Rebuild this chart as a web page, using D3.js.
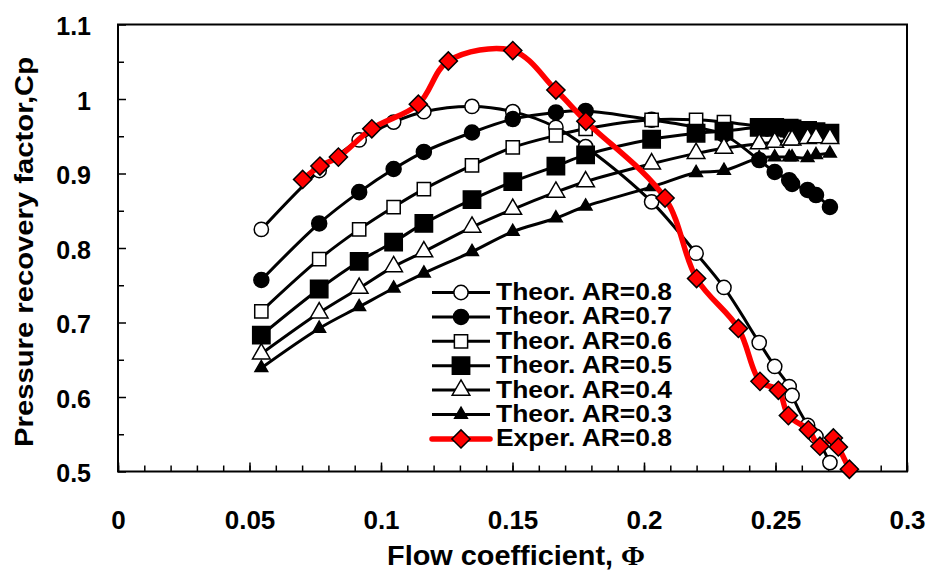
<!DOCTYPE html>
<html>
<head>
<meta charset="utf-8">
<script src="https://cdn.jsdelivr.net/npm/d3@7"></script>
<style>
  body { margin: 0; background: #fff; }
  text { font-family: "Liberation Sans", Arial, sans-serif; font-weight: bold; fill: #000; }
</style>
</head>
<body>
<div id="chart"></div>
<script>
// ----- data -----
var phiTheor = [0.0545, 0.0765, 0.0917, 0.1048, 0.1163, 0.1346, 0.1501, 0.1665, 0.1778, 0.2029,
                0.2198, 0.2304, 0.2438, 0.2497, 0.2552, 0.2563, 0.2622, 0.2654, 0.2707];
var cpAR08 = [0.825, 0.904, 0.945, 0.969, 0.983, 0.990, 0.983, 0.962, 0.936, 0.862,
              0.793, 0.747, 0.673, 0.641, 0.614, 0.602, 0.562, 0.547, 0.512];
var cpAR07 = [0.757, 0.833, 0.875, 0.906, 0.929, 0.955, 0.973, 0.982, 0.984, 0.972,
              0.962, 0.952, 0.918, 0.902, 0.891, 0.886, 0.878, 0.871, 0.855];
var cpAR06 = [0.715, 0.785, 0.825, 0.855, 0.879, 0.911, 0.935, 0.951, 0.960, 0.972,
              0.972, 0.969, 0.964, 0.964, 0.963, 0.962, 0.960, 0.958, 0.956];
var cpAR05 = [0.683, 0.745, 0.782, 0.808, 0.833, 0.865, 0.889, 0.910, 0.925, 0.946,
              0.954, 0.957, 0.962, 0.962, 0.961, 0.960, 0.958, 0.956, 0.954];
var cpAR04 = [0.658, 0.713, 0.746, 0.775, 0.795, 0.828, 0.852, 0.875, 0.889, 0.913,
              0.927, 0.934, 0.940, 0.942, 0.945, 0.945, 0.947, 0.948, 0.947];
var cpAR03 = [0.639, 0.692, 0.721, 0.746, 0.766, 0.795, 0.822, 0.840, 0.856, 0.882,
              0.901, 0.904, 0.921, 0.922, 0.922, 0.922, 0.921, 0.925, 0.927];

var phiExp = [0.0702, 0.0768, 0.0838, 0.0965, 0.1142, 0.1256, 0.1501, 0.1665, 0.1779, 0.2080,
              0.2200, 0.2359, 0.2441, 0.2511, 0.2549, 0.2625, 0.2669, 0.2720, 0.2739, 0.2781];
var cpExp = [0.892, 0.910, 0.922, 0.960, 0.993, 1.051, 1.065, 1.012, 0.970, 0.867,
             0.759, 0.692, 0.621, 0.609, 0.575, 0.556, 0.534, 0.545, 0.533, 0.503];

var seriesNames = ['Theor. AR=0.8', 'Theor. AR=0.7', 'Theor. AR=0.6', 'Theor. AR=0.5',
                   'Theor. AR=0.4', 'Theor. AR=0.3', 'Exper. AR=0.8'];
var xTicks = [0, 0.05, 0.1, 0.15, 0.2, 0.25, 0.3];
var yTicks = [0.5, 0.6, 0.7, 0.8, 0.9, 1.0, 1.1];

// ----- layout -----
var svgwidth = 932;
var svgheight = 573;
var svg = d3.select('#chart')
            .append('svg')
            .attr('width', svgwidth)
            .attr('height', svgheight);

var x = d3.scaleLinear().domain([0, 0.3]).range([118, 907]);
var y = d3.scaleLinear().domain([0.5, 1.1]).range([471.5, 24.5]);

var fmt = function(d) { return String(+d.toFixed(2)); };

// minor ticks
svg.append('g')
    .attr('transform', 'translate(0,' + y(0.5) + ')')
    .call(d3.axisBottom(x).tickValues(d3.range(0, 0.3001, 0.01)).tickSize(-6).tickFormat(''))
    .call(g => g.select('.domain').remove());
svg.append('g')
    .attr('transform', 'translate(' + x(0) + ',0)')
    .call(d3.axisLeft(y).tickValues(d3.range(0.55, 1.1, 0.1)).tickSize(-6).tickFormat(''))
    .call(g => g.select('.domain').remove());

// major ticks + labels
var xAxisG = svg.append('g')
    .attr('transform', 'translate(0,' + y(0.5) + ')')
    .call(d3.axisBottom(x).tickValues(xTicks).tickSize(-9).tickPadding(39).tickFormat(fmt));
xAxisG.select('.domain').remove();
xAxisG.selectAll('text')
    .style('font-family', '"Liberation Sans", Arial, sans-serif')
    .style('font-weight', 'bold')
    .style('font-size', '26px');

var yAxisG = svg.append('g')
    .attr('transform', 'translate(' + x(0) + ',0)')
    .call(d3.axisLeft(y).tickValues(yTicks).tickSize(-8).tickPadding(27).tickFormat(fmt));
yAxisG.select('.domain').remove();
yAxisG.selectAll('text')
    .attr('dy', '0.4em')
    .style('font-family', '"Liberation Sans", Arial, sans-serif')
    .style('font-weight', 'bold')
    .style('font-size', '25px');

svg.selectAll('.tick line').attr('stroke', '#000').attr('stroke-width', 1.5);

// plot frame
svg.append('rect')
    .attr('x', x(0))
    .attr('y', y(1.1))
    .attr('width', x(0.3) - x(0))
    .attr('height', y(0.5) - y(1.1))
    .attr('fill', 'none')
    .attr('stroke', '#000')
    .attr('stroke-width', 2);

// axis titles
svg.append('text')
    .attr('x', 516)
    .attr('y', 565)
    .attr('text-anchor', 'middle')
    .attr('textLength', 258)
    .attr('lengthAdjust', 'spacingAndGlyphs')
    .style('font-size', '27px')
    .text('Flow coefficient, ')
    .append('tspan')
    .style('font-family', '"Liberation Serif", serif')
    .text('Φ');

svg.append('text')
    .attr('transform', 'translate(33,252) rotate(-90)')
    .attr('text-anchor', 'middle')
    .attr('textLength', 390)
    .attr('lengthAdjust', 'spacingAndGlyphs')
    .style('font-size', '26px')
    .text('Pressure recovery factor,Cp');

// ----- series -----
var series = [
    {name: seriesNames[0], xs: phiTheor, ys: cpAR08, shape: d3.symbolCircle, size: 160, fill: '#fff'},
    {name: seriesNames[1], xs: phiTheor, ys: cpAR07, shape: d3.symbolCircle, size: 177, fill: '#000'},
    {name: seriesNames[2], xs: phiTheor, ys: cpAR06, shape: d3.symbolSquare, size: 175, fill: '#fff'},
    {name: seriesNames[3], xs: phiTheor, ys: cpAR05, shape: d3.symbolSquare, size: 300, fill: '#000'},
    {name: seriesNames[4], xs: phiTheor, ys: cpAR04, shape: d3.symbolTriangle, size: 135, fill: '#fff'},
    {name: seriesNames[5], xs: phiTheor, ys: cpAR03, shape: d3.symbolTriangle, size: 70, fill: '#000'},
    {name: seriesNames[6], xs: phiExp, ys: cpExp, shape: d3.symbolSquare, size: 165, fill: '#ff0000', rot: 45, red: true}
];

var line = d3.line()
    .x(d => x(d[0]))
    .y(d => y(d[1]))
    .curve(d3.curveCatmullRom.alpha(0.5));

series.forEach(function(s) {
    var pts = s.xs.map((v, i) => [v, s.ys[i]]);
    svg.append('path')
        .datum(pts)
        .attr('d', line)
        .attr('fill', 'none')
        .attr('stroke', s.red ? '#ff0000' : '#000')
        .attr('stroke-width', s.red ? 5.5 : 3)
        .attr('stroke-linejoin', 'round');
    svg.append('g')
        .selectAll('path')
        .data(pts)
        .join('path')
        .attr('d', d3.symbol().type(s.shape).size(s.size))
        .attr('transform', d => 'translate(' + x(d[0]) + ',' + y(d[1]) + ')' + (s.rot ? ' rotate(' + s.rot + ')' : ''))
        .attr('fill', s.fill)
        .attr('stroke', '#000')
        .attr('stroke-width', 1.5);
});

// ----- legend -----
var legend = svg.append('g').attr('transform', 'translate(0,292.5)');
series.forEach(function(s, i) {
    var ly = i * 24.4;
    legend.append('line')
        .attr('x1', 432).attr('x2', 490)
        .attr('y1', ly).attr('y2', ly)
        .attr('stroke', s.red ? '#ff0000' : '#000')
        .attr('stroke-width', s.red ? 5.5 : 3)
        .attr('stroke-linecap', s.red ? 'round' : 'butt');
    legend.append('path')
        .attr('d', d3.symbol().type(s.shape).size(s.size))
        .attr('transform', 'translate(461,' + ly + ')' + (s.rot ? ' rotate(' + s.rot + ')' : ''))
        .attr('fill', s.fill)
        .attr('stroke', '#000')
        .attr('stroke-width', 1.5);
    legend.append('text')
        .attr('x', 496)
        .attr('y', ly + 7.5)
        .attr('textLength', 176)
        .attr('lengthAdjust', 'spacingAndGlyphs')
        .style('font-size', '24px')
        .text(s.name);
});
</script>
</body>
</html>
